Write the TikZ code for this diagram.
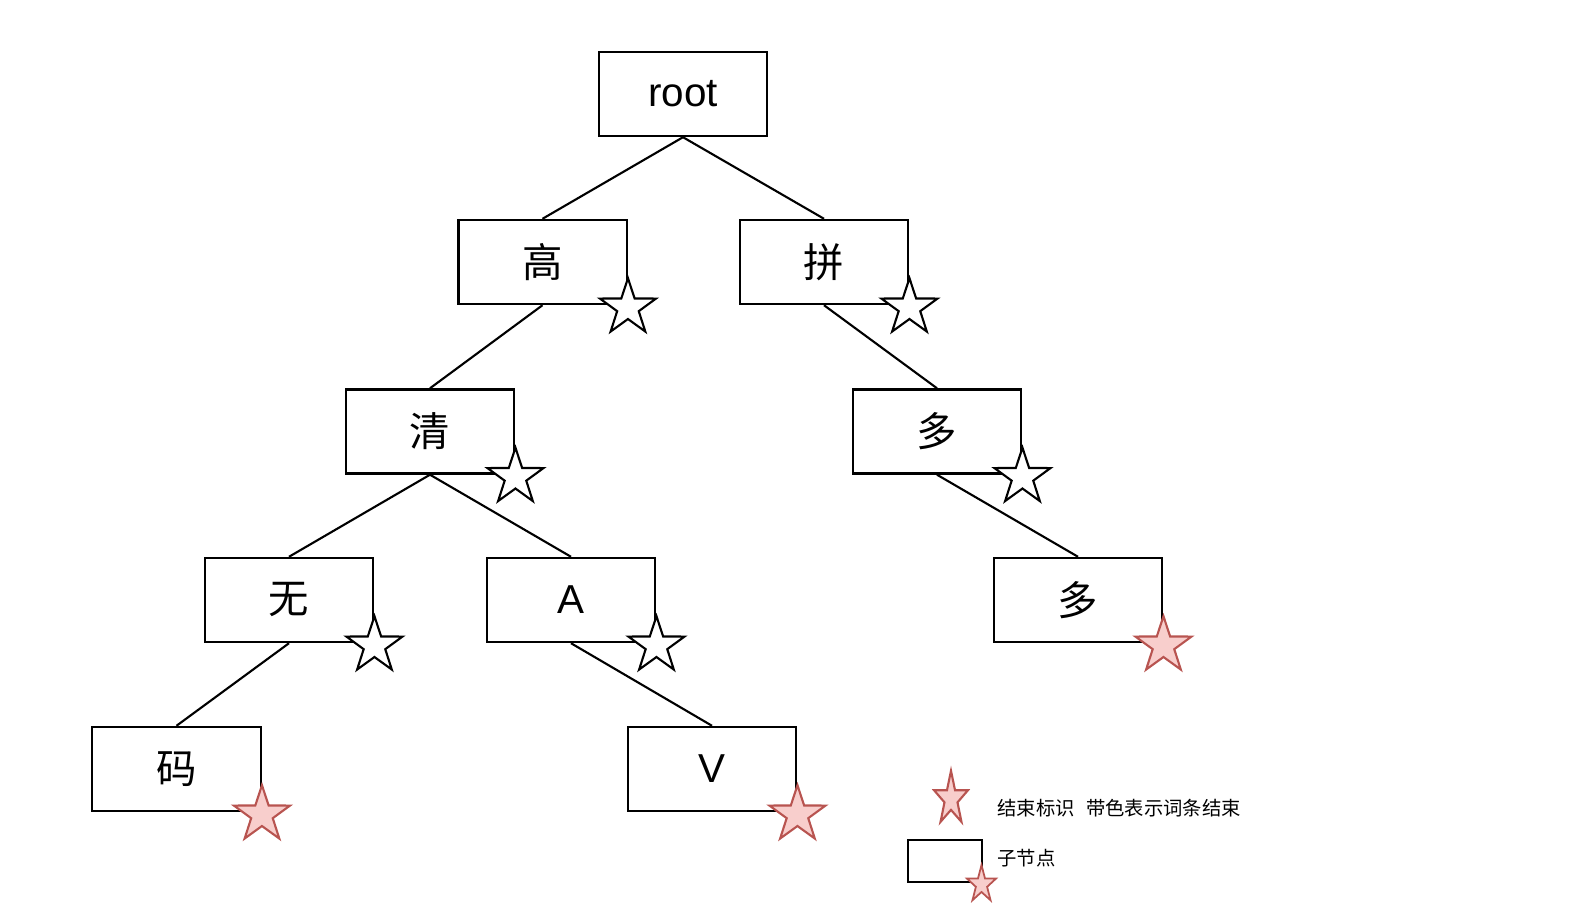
\documentclass[tikz,border=0pt]{standalone}
\usepackage{fontspec}
\setmainfont{Liberation Sans}
\newfontfamily\cjk{Noto Sans CJK SC}
\usepackage{xcolor}
\usetikzlibrary{shapes.geometric}
\definecolor{endfill}{HTML}{F8CECC}
\definecolor{endline}{HTML}{B85450}

\tikzset{
  trie/.style={draw, line width=1.4pt, fill=white, minimum width=3.37cm,
    minimum height=1.68cm, inner sep=0pt, font=\fontsize{23}{27}\selectfont},
  starnode/.style={star, star points=5, star point ratio=2.6, inner sep=0pt,
    minimum size=1.18cm, line width=1.2pt},
  openstar/.style={starnode, draw=black, fill=white},
  endstar/.style={starnode, draw=endline, fill=endfill},
  link/.style={line width=1.2pt},
  keytext/.style={anchor=west, inner sep=0pt, font=\cjk\fontsize{11}{13}\selectfont}
}

\begin{document}
\begin{tikzpicture}[x=0.02cm,y=-0.02cm]
  \useasboundingbox (0,0) rectangle (1590,908);

  \node[trie] (root) at (683,94) {root};
  \node[trie] (gao) at (542.5,262) {\cjk 高};
  \node[trie] (pin) at (824,262) {\cjk 拼};
  \node[trie] (qing) at (430,431.5) {\cjk 清};
  \node[trie] (duo1) at (937,431.5) {\cjk 多};
  \node[trie] (wu) at (289,600) {\cjk 无};
  \node[trie] (a) at (571,600) {A};
  \node[trie] (duo2) at (1078,600) {\cjk 多};
  \node[trie] (ma) at (176.5,769) {\cjk 码};
  \node[trie] (v) at (712,769) {V};

  \foreach \p/\c in {root/gao,root/pin,gao/qing,pin/duo1,qing/wu,qing/a,duo1/duo2,wu/ma,a/v}
    \draw[link] (\p.south) -- (\c.north);

  \foreach \n in {gao,pin,qing,duo1,wu,a}
    \node[openstar, yshift=-1.4pt] (\n-s) at (\n.south east) {};
  \foreach \n in {duo2,ma,v}
    \node[endstar, yshift=-1.4pt] (\n-s) at (\n.south east) {};

  % legend
  \begin{scope}[shift={(951,799)}, xscale=0.63]
    \node[endstar, minimum size=1.13cm, transform shape] (key-s) at (0,0) {};
  \end{scope}
  \node[keytext] (key-t) at (997,808) {结束标识\hspace{0.6em}带色表示词条结束};
  \node[draw, line width=1.4pt, minimum width=1.48cm, minimum height=0.84cm,
    inner sep=0pt] (key-box) at (945,861) {};
  \begin{scope}[shift={(981.5,884.5)}, xscale=0.79]
    \node[endstar, minimum size=0.78cm, line width=1pt, transform shape] (key-bs) at (0,0) {};
  \end{scope}
  \node[keytext] (key-n) at (997,858) {子节点};
\end{tikzpicture}
\end{document}
